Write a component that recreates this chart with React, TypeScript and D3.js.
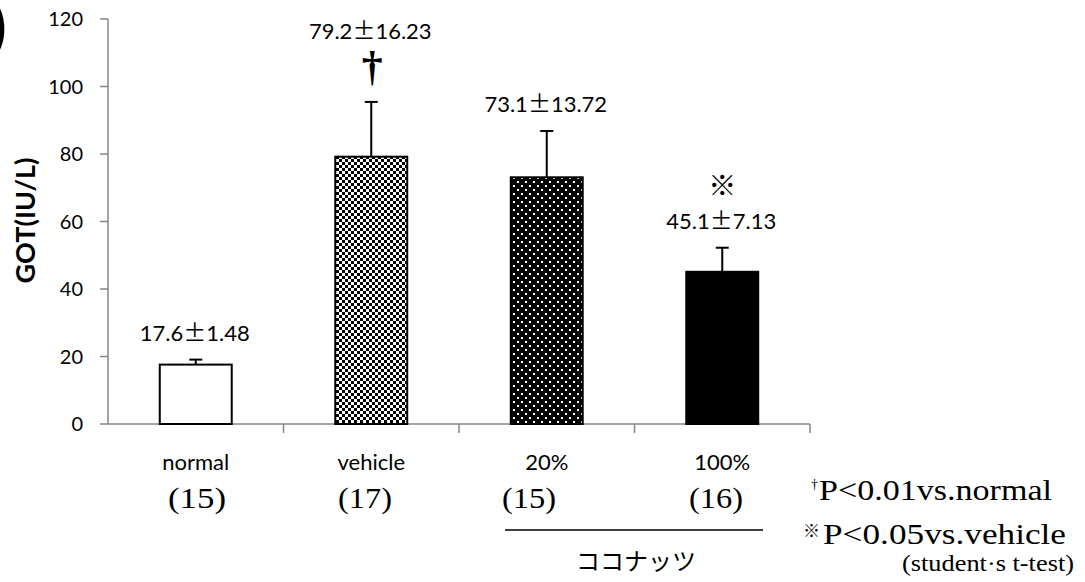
import React from "react";
import * as d3 from "d3";

const categories = ["normal", "vehicle", "20%", "100%"];
const means = [17.6, 79.2, 73.1, 45.1];
const sds = [1.48, 16.23, 13.72, 7.13];
const meanLabels = ["17.6", "79.2", "73.1", "45.1"];
const sdLabels = ["1.48", "16.23", "13.72", "7.13"];
const marks = ["", "†", "", "※"];
const counts = ["(15)", "(17)", "(15)", "(16)"];
const fills = ["#ffffff", "url(#checker)", "url(#dots)", "#000000"];
const yTicks = [0, 20, 40, 60, 80, 100, 120];

const W = 1085;
const H = 582;
const left = 108;
const right = 810;
const top = 19;
const bottom = 424;

const sans = "Lato, 'Open Sans', sans-serif";
const serif = "'Liberation Serif', 'DejaVu Serif', serif";
const cjk = "'Noto Sans CJK JP', sans-serif";

export default function App() {
  const x = d3.scaleBand<string>().domain(categories).range([left, right]).paddingInner(0.59).paddingOuter(0.295);
  const band = d3.scaleBand<string>().domain(categories).range([left, right]);
  const y = d3.scaleLinear().domain([0, 120]).range([bottom, top]);
  const bw = x.bandwidth();
  const countX = [195, 365, 529, 716];

  return (
    <svg width={W} height={H} style={{ position: "absolute", left: 0, top: 0, background: "#fff" }}>
      <defs>
        <pattern id="checker" width={6} height={6} patternUnits="userSpaceOnUse">
          <rect width={6} height={6} fill="#fff" />
          <rect x={0} y={0} width={3} height={3} fill="#000" />
          <rect x={3} y={3} width={3} height={3} fill="#000" />
        </pattern>
        <pattern id="dots" width={8} height={8} patternUnits="userSpaceOnUse">
          <rect width={8} height={8} fill="#000" />
          <rect x={1} y={1} width={2} height={2} fill="#fff" />
          <rect x={5} y={5} width={2} height={2} fill="#fff" />
        </pattern>
      </defs>

      {/* cut-off panel label */}
      <text x={7} y={48} fontFamily={sans} fontSize={60} textAnchor="end" fill="#000">)</text>

      {/* y axis */}
      <line x1={left} x2={left} y1={top} y2={bottom} stroke="#868686" strokeWidth={1.5} />
      {yTicks.map((t) => (
        <g key={t}>
          <line x1={left - 8} x2={left} y1={y(t)} y2={y(t)} stroke="#868686" strokeWidth={1.5} />
          <text x={left - 25} y={y(t) + 7} textAnchor="end" fontFamily={sans} fontSize={20} fill="#000">{t}</text>
        </g>
      ))}
      <text transform={`translate(35,${(top + bottom) / 2 - 1}) rotate(-90)`} textAnchor="middle" fontFamily={sans} fontWeight="bold" fontSize={27} fill="#000">GOT(IU/L)</text>

      {/* x axis */}
      <line x1={left} x2={right} y1={bottom} y2={bottom} stroke="#868686" strokeWidth={1.5} />
      {categories.map((c) => (
        <line key={c} x1={(band(c) as number) + band.bandwidth()} x2={(band(c) as number) + band.bandwidth()} y1={bottom} y2={bottom + 9} stroke="#868686" strokeWidth={1.5} />
      ))}

      {/* bars */}
      {categories.map((c, i) => {
        const bx = x(c) as number;
        const cx = bx + bw / 2;
        return (
          <g key={c}>
            <line x1={cx} x2={cx} y1={y(means[i])} y2={y(means[i] + sds[i])} stroke="#000" strokeWidth={2} />
            <line x1={cx - 6.5} x2={cx + 6.5} y1={y(means[i] + sds[i])} y2={y(means[i] + sds[i])} stroke="#000" strokeWidth={2} />
            <rect x={bx} y={y(means[i])} width={bw} height={bottom - y(means[i])} fill={fills[i]} stroke="#000" strokeWidth={2} />
          </g>
        );
      })}

      {/* value labels */}
      {categories.map((c, i) => {
        const cx = (x(c) as number) + bw / 2;
        const top2 = y(means[i] + sds[i]);
        const labelY = marks[i] === "†" ? top2 - 63 : top2 - 19;
        return (
          <g key={c}>
            <text x={cx - 1} y={labelY} textAnchor="middle" fontFamily={sans} fontSize={22} fill="#000">
              {meanLabels[i]}
              <tspan fontFamily={cjk} fontSize={23}>±</tspan>
              {sdLabels[i]}
            </text>
            {marks[i] === "†" && (
              <text x={cx + 1} y={top2 - 22} textAnchor="middle" fontFamily={serif} fontWeight="bold" fontSize={42} fill="#000">†</text>
            )}
            {marks[i] === "※" && (
              <text x={cx} y={top2 - 52} textAnchor="middle" fontFamily={cjk} fontSize={28} fill="#000">※</text>
            )}
          </g>
        );
      })}

      {/* category labels */}
      {categories.map((c) => (
        <text key={c} x={(x(c) as number) + bw / 2} y={470} textAnchor="middle" fontFamily={sans} fontSize={22} fill="#000">{c}</text>
      ))}
      {counts.map((n, i) => (
        <text key={i} x={countX[i] - 27} y={508} fontFamily={serif} fontSize={29} fill="#000" textLength={i === 0 ? 58 : 54} lengthAdjust="spacingAndGlyphs">{n}</text>
      ))}

      <line x1={505} x2={763} y1={530} y2={530} stroke="#000" strokeWidth={1.5} />
      <text x={636} y={570} textAnchor="middle" fontFamily={cjk} fontSize={24} fill="#000">ココナッツ</text>

      {/* legend notes */}
      <text x={811} y={500} fontFamily={serif} fontSize={26} fill="#000">
        <tspan fontSize={14} dy={-11}>†</tspan>
      </text>
      <text x={819} y={500} fontFamily={serif} fontSize={29} fill="#000" textLength={233} lengthAdjust="spacingAndGlyphs">P&lt;0.01vs.normal</text>
      <text x={803} y={537} fontFamily={cjk} fontSize={17} fill="#000">※</text>
      <text x={823} y={544} fontFamily={serif} fontSize={29} fill="#000" textLength={243} lengthAdjust="spacingAndGlyphs">P&lt;0.05vs.vehicle</text>
      <text x={1074} y={571} textAnchor="end" fontFamily={serif} fontSize={23} fill="#000" textLength={172} lengthAdjust="spacingAndGlyphs">(student·s t-test)</text>
    </svg>
  );
}
